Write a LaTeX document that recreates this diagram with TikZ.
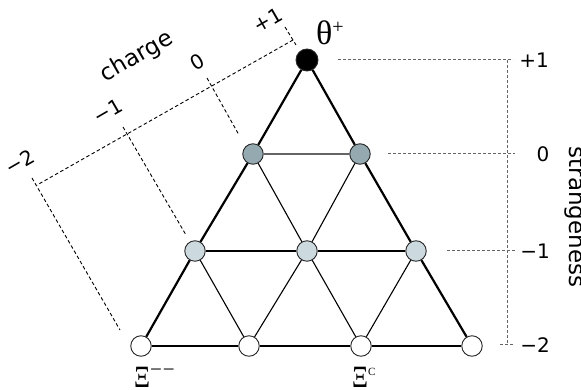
\documentclass[tikz,border=0pt]{standalone}
\usepackage{fontspec}
\newfontfamily\lab{DejaVu Sans}
\newfontfamily\ser{Liberation Serif}
\definecolor{czero}{RGB}{148,169,176}
\definecolor{cone}{RGB}{204,218,224}
\definecolor{axgray}{RGB}{100,100,100}
\begin{document}
\begin{tikzpicture}[x=1pt,y=-1pt,
  ball/.style={circle,draw=black!85,line width=0.9pt,minimum size=20.5pt,inner sep=0pt},
  outer/.style={line width=2.2pt},
  thin/.style={line width=1.1pt},
  chg/.style={dash pattern=on 3.5pt off 2.5pt,line width=0.9pt},
  strg/.style={dash pattern=on 3pt off 2pt,line width=1pt,draw=axgray},
  num/.style={font=\lab\fontsize{20}{20}\selectfont,inner sep=0pt},
  word/.style={font=\lab\fontsize{23}{23}\selectfont,inner sep=0pt}]
\useasboundingbox (0,0) rectangle (581,390);
% particles
\node[ball,fill=black,minimum size=22pt] (t) at (307,60) {};
\node[ball,fill=czero] (a0) at (253,154) {};
\node[ball,fill=czero] (a1) at (360,154) {};
\node[ball,fill=cone] (b0) at (195,251) {};
\node[ball,fill=cone] (b1) at (307,251) {};
\node[ball,fill=cone] (b2) at (416,251) {};
\node[ball,fill=white] (d0) at (141,346) {};
\node[ball,fill=white] (d1) at (249,346) {};
\node[ball,fill=white] (d2) at (361,346) {};
\node[ball,fill=white] (d3) at (472,346) {};
% lattice
\draw[outer] (t) -- (a0) -- (b0) -- (d0);
\draw[outer] (t) -- (a1) -- (b2) -- (d3);
\draw[line width=1.8pt] (d0) -- (d1) -- (d2) -- (d3);
\draw[line width=2pt,draw=axgray] (a0) -- (a1);
\draw[thin] (b0) -- (b1) -- (b2);
\draw[thin] (a0) -- (b1) -- (d2);
\draw[thin] (a1) -- (b1) -- (d1);
\draw[thin] (b0) -- (d1);
\draw[thin] (b2) -- (d2);
% charge axis
\coordinate (qa) at (293,40);
\coordinate (qb) at (37,185);
\coordinate (q1s) at (285,27);  \coordinate (q1e) at (296,45);
\coordinate (q0s) at (207,78);  \coordinate (q0e) at (239,135);
\coordinate (qm1s) at (123,127); \coordinate (qm1e) at (186,235);
\coordinate (qm2s) at (32,178);  \coordinate (qm2e) at (120,330);
\draw[chg] (qa) -- (qb);
\draw[chg] (q1s) -- (q1e);
\draw[chg] (q0s) -- (q0e);
\draw[chg] (qm1s) -- (qm1e);
\draw[chg] (qm2s) -- (qm2e);
\node[word,rotate=30] (chlab) at (137,57) {charge};
\node[num,rotate=30] (cq1) at (268,20) {+1};
\node[num,rotate=30] (cq0) at (197,62) {0};
\node[num,rotate=30] (cqm1) at (108,111) {−1};
\node[num,rotate=30] (cqm2) at (20,162) {−2};
% strangeness axis
\coordinate (sv1) at (507,60);
\coordinate (sv2) at (507,344);
\coordinate (s1s) at (338,60);  \coordinate (s1e) at (513,60);
\coordinate (s0s) at (388,154); \coordinate (s0e) at (515,154);
\coordinate (sm1s) at (447,251); \coordinate (sm1e) at (515,251);
\coordinate (sm2s) at (500,344); \coordinate (sm2e) at (513,344);
\draw[strg] (sv1) -- (sv2);
\draw[strg] (s1s) -- (s1e);
\draw[strg] (s0s) -- (s0e);
\draw[strg] (sm1s) -- (sm1e);
\draw[strg] (sm2s) -- (sm2e);
\node[num] (sq1) at (534,60) {+1};
\node[num] (sq0) at (543,154) {0};
\node[num] (sqm1) at (535,251) {−1};
\node[num] (sqm2) at (535,345) {−2};
\node[word,rotate=-90] (stlab) at (575,217) {strangeness};
% particle labels
\node[anchor=base west,inner sep=0pt,font=\ser\fontsize{34}{34}\selectfont] (theta) at (316,45) {θ\raisebox{11pt}{\fontsize{20}{20}\selectfont +}};
\node[anchor=base west,inner sep=0pt,font=\ser\fontsize{31}{31}\selectfont] (xim) at (134,387) {\scalebox{0.8}[1]{Ξ}\raisebox{11pt}{\fontsize{21}{21}\selectfont −\hspace{1pt}−}};
\node[anchor=base west,inner sep=0pt,font=\ser\fontsize{31}{31}\selectfont] (xic) at (352,387) {\scalebox{0.8}[1]{Ξ}\raisebox{12pt}{\fontsize{11}{11}\selectfont C}};
\end{tikzpicture}
\end{document}
